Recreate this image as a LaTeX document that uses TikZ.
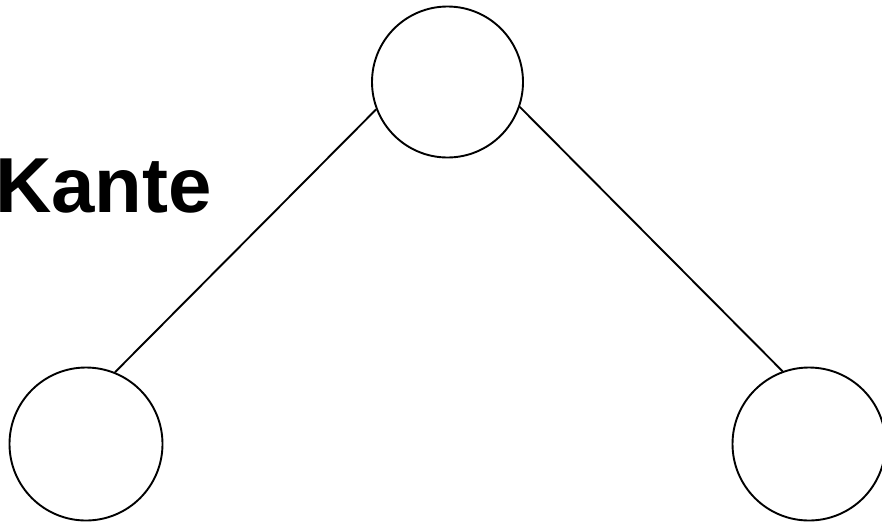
\documentclass[tikz,border=0pt]{standalone}
\usepackage{fontspec}
\setmainfont{Liberation Sans}
\begin{document}
\begin{tikzpicture}[x=1pt,y=-1pt,
  vertex/.style={circle,draw=black,line width=1.9pt,minimum size=151pt,inner sep=0pt},
  edge/.style={draw=black,line width=1.9pt}]
\useasboundingbox (0,0) rectangle (882,523);
\node[vertex] (top) at (447.5,82) {};
\node[vertex,minimum size=153pt] (bl) at (86,444) {};
\node[vertex,minimum size=153pt] (br) at (809,444) {};
\draw[edge] (top.201) -- (bl.68);
\draw[edge] (top.341) -- (br.110);
\node[anchor=base west,inner sep=0pt,font=\bfseries\fontsize{78}{78}\selectfont] (lbl) at (-5,212) {Kante};
\end{tikzpicture}
\end{document}
